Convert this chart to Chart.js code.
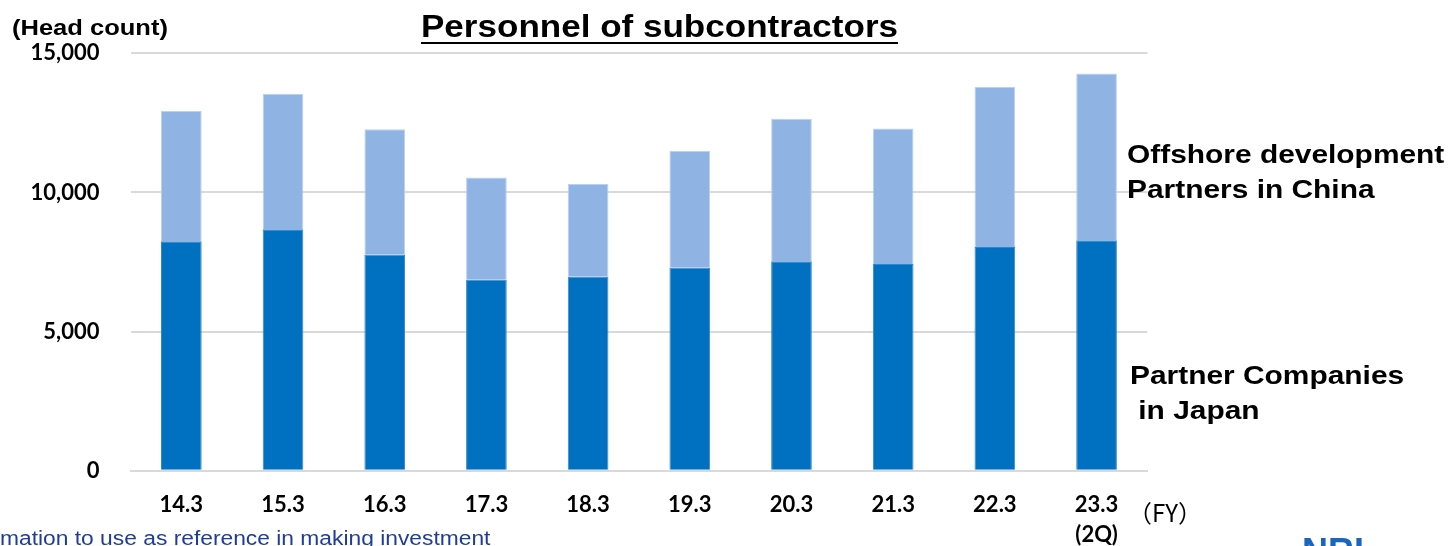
<!DOCTYPE html>
<html>
<head>
<meta charset="utf-8">
<title>Personnel of subcontractors</title>
<script src="https://cdn.jsdelivr.net/npm/chart.js@4"></script>
<style>
    body { margin: 0; background: #fff; overflow: hidden; }
    #wrap { position: relative; width: 1453px; height: 546px; overflow: hidden; }
    #myChart { position: absolute; left: 0; top: 0; }
    .lbl { position: absolute; white-space: pre; font-family: "Liberation Sans", Arial, sans-serif; color: #000; }
    .lbl span { display: inline-block; transform-origin: 0 0; }
    #title { left: 421px; top: 10px; font-size: 32px; line-height: 32px; font-weight: bold; }
    #title span { transform: scaleX(1.095); text-decoration: underline; text-decoration-thickness: 2px; text-underline-offset: 5px; }
    #unit { left: 12px; top: 17px; font-size: 22px; line-height: 22px; font-weight: bold; }
    #unit span { transform: scaleX(1.16); }
    .side { font-size: 26px; line-height: 35px; font-weight: bold; }
    .side span { transform: scaleX(1.15); }
    #china { left: 1127px; top: 137px; }
    #japan { left: 1130px; top: 358px; }
    #fy { left: 1128px; top: 500px; font-family: "Noto Sans CJK JP", sans-serif; font-size: 24px; line-height: 24px; }
    #note { left: 0; top: 528px; font-size: 20px; line-height: 20px; color: #1f3c9c; }
    #note span { transform: scaleX(1.14); }
    #logo { left: 1302px; top: 533px; font-size: 36px; line-height: 38px; font-weight: bold; color: #1a66bd; }
</style>
</head>
<body>
<div id="wrap">
    <canvas id="myChart" width="1453" height="546"></canvas>
    <div class="lbl" id="title"><span>Personnel of subcontractors</span></div>
    <div class="lbl" id="unit"><span>(Head count)</span></div>
    <div class="lbl side" id="china"><span>Offshore development
Partners in China</span></div>
    <div class="lbl side" id="japan"><span>Partner Companies
 in Japan</span></div>
    <div class="lbl" id="fy">（FY）</div>
    <div class="lbl" id="note"><span>mation to use as reference in making investment</span></div>
    <div class="lbl" id="logo">NRI</div>
</div>
<script>
//Personnel of subcontractors, stacked bars

const fiscalYears = ['14.3', '15.3', '16.3', '17.3', '18.3', '19.3', '20.3', '21.3', '22.3', ['23.3', '(2Q)']]; //x-axis labels
const japanPartners = [8250, 8680, 7760, 6860, 6970, 7290, 7530, 7430, 8040, 8280]; //Partner Companies in Japan (bottom)
const chinaPartners = [4680, 4870, 4510, 3680, 3330, 4200, 5120, 4870, 5750, 5990]; //Offshore development Partners in China (top)
const yTicks = [0, 5000, 10000, 15000];

const tickFont = { family: 'Lato', weight: 'bold', size: 22 };

const ctx = document.getElementById('myChart');
const myChart = new Chart(ctx, {
    type: 'bar',
    data: {
        labels: fiscalYears,
        datasets: [
            {
                label: 'Partner Companies in Japan',
                data: japanPartners,
                backgroundColor: '#0070C0',
                borderColor: '#3486cb',
                borderWidth: 1,
                borderSkipped: 'bottom'
            },
            {
                label: 'Offshore development Partners in China',
                data: chinaPartners,
                backgroundColor: '#8FB4E3',
                borderColor: '#bcd1ee',
                borderWidth: 1,
                borderSkipped: 'bottom'
            }
        ]
    },
    options: {
        responsive: false,
        animation: false,
        barPercentage: 0.4,
        categoryPercentage: 1.0,
        layout: {
            padding: { top: 53.3, right: 305.6, left: 0, bottom: 0 }
        },
        scales: {
            x: {
                stacked: true,
                grid: { display: false, drawTicks: false },
                border: { display: true, color: '#D9D9D9', width: 2 },
                ticks: {
                    color: '#000',
                    font: { ...tickFont, lineHeight: '30px' },
                    padding: 19,
                    maxRotation: 0,
                    autoSkip: false
                },
                afterFit: (scale) => { scale.height = 75.3; }
            },
            y: {
                stacked: true,
                min: 0,
                max: 15000,
                afterBuildTicks: (scale) => { scale.ticks = yTicks.map(v => ({ value: v })); },
                grid: { color: '#D9D9D9', lineWidth: 2, drawTicks: false },
                border: { display: false },
                ticks: {
                    color: '#000',
                    font: tickFont,
                    padding: 31,
                    callback: (v) => v.toLocaleString('en-US')
                },
                afterFit: (scale) => { scale.width = 130.5; }
            }
        },
        plugins: {
            legend: { display: false },
            title: { display: false },
            tooltip: { enabled: false }
        }
    }
});
</script>
</body>
</html>
